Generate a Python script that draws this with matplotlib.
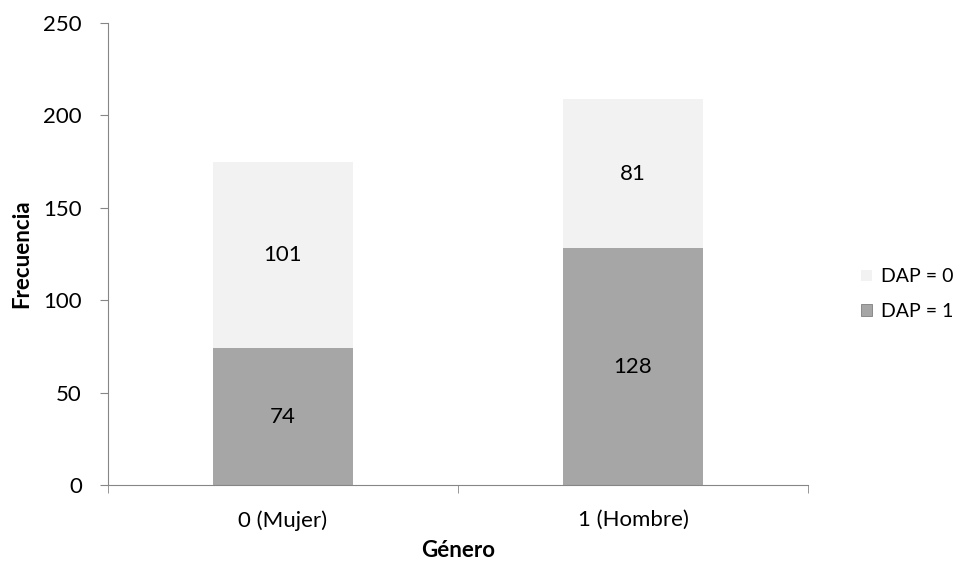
import numpy as np
import matplotlib.pyplot as plt
from matplotlib.ticker import FixedLocator

plt.rcParams['font.family'] = ['Lato', 'DejaVu Sans']

categorias = ["0 (Mujer)", "1 (Hombre)"]
dap_1 = [74, 128]
dap_0 = [101, 81]
series = ["DAP = 0", "DAP = 1"]

gris_oscuro = "#A6A6A6"
gris_claro = "#F2F2F2"
eje = "#868686"
fs = 16

fig = plt.figure(figsize=(9.57, 5.67), dpi=100)
ax = fig.add_axes([108 / 957, 1 - 485 / 567, 700 / 957, 462 / 567])

x = np.arange(len(categorias))
b1 = ax.bar(x, dap_1, width=0.4, color=gris_oscuro, label=series[1])
b0 = ax.bar(x, dap_0, width=0.4, bottom=dap_1, color=gris_claro, label=series[0])

for barras, valores, base in ((b1, dap_1, [0, 0]), (b0, dap_0, dap_1)):
	for rect, v, b in zip(barras, valores, base):
		ax.text(rect.get_x() + rect.get_width() / 2, b + v / 2, str(v),
				ha="center", va="center", fontsize=fs, color="black")

ax.set_xlim(-0.5, 1.5)
ax.set_ylim(0, 250)
ax.set_yticks(range(0, 251, 50))
ax.set_xticks(x)
ax.set_xticklabels(categorias)
ax.xaxis.set_minor_locator(FixedLocator([-0.5, 0.5, 1.5]))
ax.tick_params(axis="x", which="major", length=0, pad=18, labelsize=fs)
ax.tick_params(axis="x", which="minor", length=5.8, color=eje)
ax.tick_params(axis="y", length=5.8, color=eje, labelsize=fs, pad=13)

for lado in ("top", "right"):
	ax.spines[lado].set_visible(False)
for lado in ("left", "bottom"):
	ax.spines[lado].set_color(eje)

ax.set_ylabel("Frecuencia", fontsize=fs, fontweight="bold", labelpad=8)
ax.set_xlabel("Género", fontsize=fs, fontweight="bold", labelpad=7)

leg = ax.legend(handles=[b0, b1], labels=series, loc="center left",
				bbox_to_anchor=(861 / 957, 1 - 294 / 567), bbox_transform=fig.transFigure,
				frameon=False, fontsize=14, handlelength=0.55, handleheight=0.55,
				handletextpad=0.5, labelspacing=0.9, borderpad=0, borderaxespad=0)
for h in leg.legend_handles:
	h.set_edgecolor("#7F7F7F")
	h.set_linewidth(0.6)
leg.legend_handles[0].set_edgecolor("none")

fig.savefig("out.png", dpi=100)
